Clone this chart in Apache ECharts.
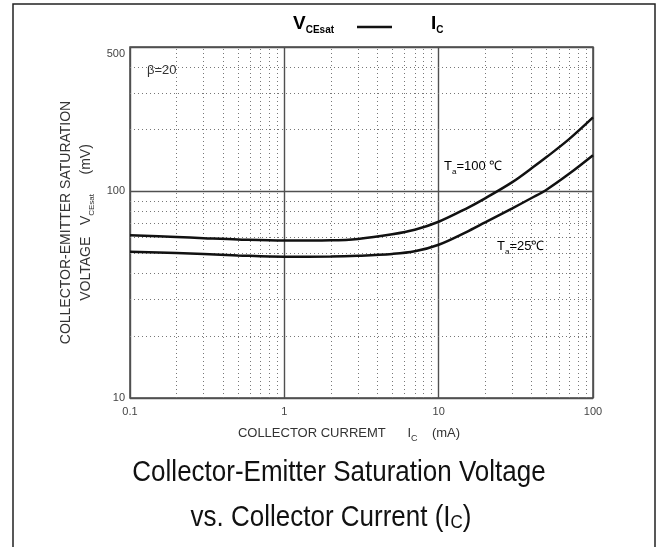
<!DOCTYPE html>
<html>
<head>
<meta charset="utf-8">
<script src="https://cdn.jsdelivr.net/npm/echarts@6/dist/echarts.min.js"></script>
<style>
  html, body { margin: 0; padding: 0; background: #fff; }
  #chart { width: 659px; height: 547px; }
</style>
</head>
<body>
<div id="chart"></div>
<script>
// collector current Ic (mA)
const currentMA = [0.1, 0.2, 0.3, 0.5, 1, 2, 3, 5, 7, 10, 15, 20, 30, 40, 50, 70, 100]
// Vce(sat) in mV, Ta = 100 C and Ta = 25 C
const vce100 = [61.4, 60.2, 59.4, 58.5, 57.8, 58.0, 58.9, 62.0, 65.2, 71.3, 82.4, 92.6, 110.9, 129.4, 146.6, 179, 228]
const vce25 = [51.1, 50.3, 49.8, 49.0, 48.3, 48.4, 48.8, 49.8, 51.3, 55.2, 63.4, 70.8, 82.8, 92.9, 101.9, 121.6, 149.6]

// dotted minor grid values
const xMinor = [0.2, 0.3, 0.4, 0.5, 0.6, 0.7, 0.8, 0.9, 2, 3, 4, 5, 6, 7, 8, 9, 20, 30, 40, 50, 60, 70, 80, 90]
const yMinor = [20, 30, 40, 50, 60, 70, 80, 90, 200, 300, 400]

const FONT = 'Liberation Sans, Arial, sans-serif'

const chart = echarts.init(document.getElementById('chart'))

const toPairs = (ys) => currentMA.map((x, i) => [x, ys[i]])

const minorLines = [
  ...xMinor.map(v => ({ xAxis: v })),
  ...yMinor.map(v => ({ yAxis: v }))
]

const tickStyle = { fontFamily: FONT, fontSize: 11, color: '#444' }

chart.setOption({
  backgroundColor: '#fff',
  animation: false,
  grid: {
    left: 130, right: 66, top: 47, bottom: 149,
    show: true, borderColor: '#444', borderWidth: 1.5,
    containLabel: false, outerBoundsMode: 'none'
  },
  xAxis: {
    type: 'log', logBase: 10, min: 0.1, max: 100,
    name: 'COLLECTOR CURREMT      I{sub|C}    (mA)',
    nameLocation: 'middle', nameGap: 26,
    nameTextStyle: {
      fontFamily: FONT, fontSize: 13, color: '#333', padding: [0, 25, 0, 0],
      rich: { sub: { fontFamily: FONT, fontSize: 9, color: '#333', verticalAlign: 'bottom', padding: [10, 0, 0, 0] } }
    },
    axisLine: { show: false },
    axisTick: { show: false },
    axisLabel: { ...tickStyle, margin: 8 },
    splitLine: { show: true, lineStyle: { color: '#505050', width: 1.4 } }
  },
  yAxis: {
    type: 'log', logBase: 10, min: 10, max: 500,
    name: 'COLLECTOR-EMITTER SATURATION\nVOLTAGE   V{sub|CEsat}     (mV)',
    nameLocation: 'middle', nameRotate: 90, nameGap: 34,
    nameTextStyle: {
      fontFamily: FONT, fontSize: 14, color: '#333', lineHeight: 20, align: 'center',
      rich: { sub: { fontFamily: FONT, fontSize: 8, color: '#333', verticalAlign: 'bottom', padding: [10, 0, 0, 0] } }
    },
    axisLine: { show: false },
    axisTick: { show: false },
    axisLabel: {
      ...tickStyle, margin: 5, showMaxLabel: true,
      formatter: (v) => v > 400 ? '{top|' + Math.round(v) + '}' : String(Math.round(v)),
      rich: { top: { ...tickStyle, padding: [14, 0, 0, 0] } }
    },
    splitLine: { show: true, lineStyle: { color: '#505050', width: 1.4 } }
  },
  series: [
    {
      name: 'Ta=100',
      type: 'line',
      smooth: 0.35,
      showSymbol: false,
      data: toPairs(vce100),
      lineStyle: { color: '#111', width: 2.5 },
      z: 5,
      markLine: {
        silent: true, symbol: 'none', animation: false,
        label: { show: false },
        lineStyle: { color: '#777', width: 1, type: [1, 3] },
        data: minorLines,
        z: 1
      }
    },
    {
      name: 'Ta=25',
      type: 'line',
      smooth: 0.35,
      showSymbol: false,
      data: toPairs(vce25),
      lineStyle: { color: '#111', width: 2.5 },
      z: 5
    }
  ],
  graphic: [
    // outer frame
    {
      type: 'rect', z: -1,
      shape: { x: 13, y: 4, width: 642, height: 560 },
      style: { fill: 'none', stroke: '#222', lineWidth: 1.5 }
    },
    // header: Vcesat --- Ic
    {
      type: 'text', left: 293, top: 14,
      style: {
        text: '{v|V}{s|CEsat}',
        rich: {
          v: { fontFamily: FONT, fontSize: 19, fontWeight: 'bold', color: '#111', lineHeight: 24, verticalAlign: 'middle' },
          s: { fontFamily: FONT, fontSize: 10, fontWeight: 'bold', color: '#111', lineHeight: 10, verticalAlign: 'bottom' }
        }
      }
    },
    {
      type: 'line',
      shape: { x1: 357, y1: 27, x2: 392, y2: 27 },
      style: { stroke: '#111', lineWidth: 2.5 }
    },
    {
      type: 'text', left: 431, top: 14,
      style: {
        text: '{v|I}{s|C}',
        rich: {
          v: { fontFamily: FONT, fontSize: 19, fontWeight: 'bold', color: '#111', lineHeight: 24, verticalAlign: 'middle' },
          s: { fontFamily: FONT, fontSize: 10, fontWeight: 'bold', color: '#111', lineHeight: 10, verticalAlign: 'bottom' }
        }
      }
    },
    {
      type: 'text', left: 147, top: 64,
      style: { text: 'β=20', fontFamily: FONT, fontSize: 13, fill: '#333' }
    },
    {
      type: 'text', left: 444, top: 160,
      style: {
        text: '{t|T}{s|a}{t|=100 ℃}',
        rich: {
          t: { fontFamily: FONT, fontSize: 13, color: '#222', lineHeight: 18, verticalAlign: 'middle' },
          s: { fontFamily: FONT, fontSize: 8, color: '#222', lineHeight: 8, verticalAlign: 'bottom' }
        }
      }
    },
    {
      type: 'text', left: 497, top: 240,
      style: {
        text: '{t|T}{s|a}{t|=25℃}',
        rich: {
          t: { fontFamily: FONT, fontSize: 13, color: '#222', lineHeight: 18, verticalAlign: 'middle' },
          s: { fontFamily: FONT, fontSize: 8, color: '#222', lineHeight: 8, verticalAlign: 'bottom' }
        }
      }
    },
    // caption
    {
      type: 'text', x: 339, y: 473, scaleY: 1.12,
      style: {
        text: 'Collector-Emitter Saturation Voltage',
        fontFamily: FONT, fontSize: 26, fill: '#111',
        align: 'center', verticalAlign: 'middle'
      }
    },
    {
      type: 'text', x: 331, y: 518, scaleY: 1.12,
      style: {
        text: 'vs. Collector Current (I{sub|C})',
        fontFamily: FONT, fontSize: 26, fill: '#111',
        align: 'center', verticalAlign: 'middle',
        rich: { sub: { fontFamily: FONT, fontSize: 17, color: '#111', verticalAlign: 'bottom', lineHeight: 17, padding: [6, 0, 0, 0] } }
      }
    }
  ]
})
</script>
</body>
</html>
